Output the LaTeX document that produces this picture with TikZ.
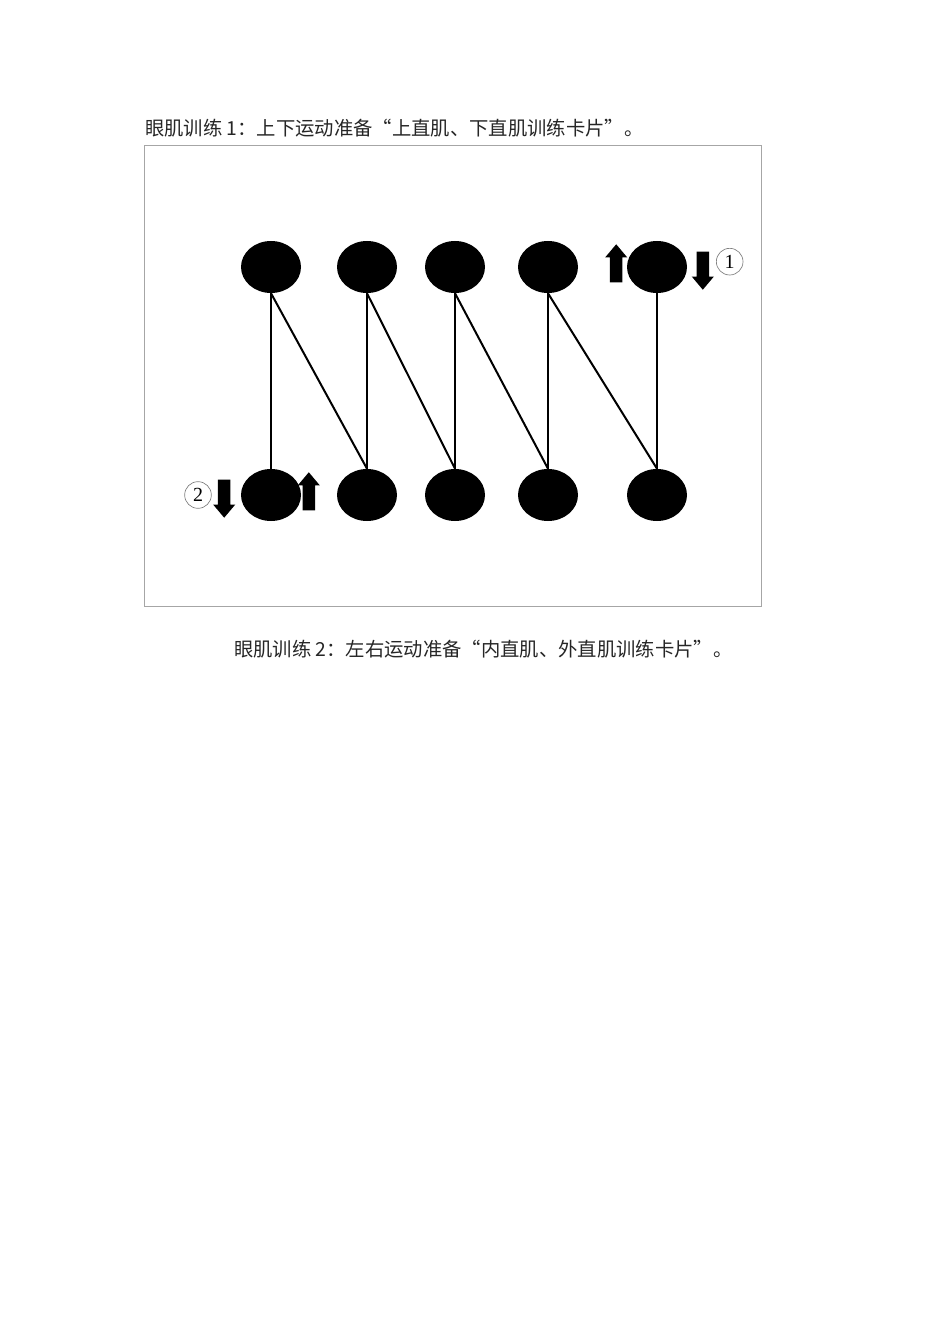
\documentclass[tikz,border=0pt]{standalone}
\usepackage{fontspec}
\setmainfont{Liberation Serif}
\newfontfamily\cjk{Noto Sans CJK SC}
\usepackage{tikz}
\usetikzlibrary{shapes,positioning}
\tikzset{
	dot/.style = {
		ellipse, fill=black, inner sep=0pt, minimum width=45pt, minimum height=39pt
	}
}
\tikzset{
	blockarrow/.style = {
		single arrow, fill=black, inner sep=4.5pt, minimum height=28.5pt,
		single arrow head extend=3.6pt, single arrow tip angle=80
	}
}
\tikzset{
	uparrow/.style = {
		blockarrow, shape border rotate=90
	}
}
\tikzset{
	downarrow/.style = {
		blockarrow, shape border rotate=270
	}
}
\tikzset{
	number/.style = {
		circle, draw=gray, line width=0.5pt, inner sep=0pt, minimum size=20pt,
		font=\fontsize{15}{15}\selectfont
	}
}
\tikzset{
	track/.style = {
		line width=1.5pt
	}
}
\tikzset{
	caption/.style = {
		anchor=west, inner sep=0pt, text=black!85, font=\cjk\fontsize{14.5}{14.5}\selectfont
	}
}

\begin{document}
\begin{tikzpicture}[x=0.75pt, y=-0.75pt]
	\useasboundingbox[fill=white] (0,0) rectangle (950,1344);
	\node[caption](CaptionOne) at (145,128){眼肌训练 1：上下运动准备“上直肌、下直肌训练卡片”。};
	\draw[gray!70, line width=0.75pt] (144,146) rectangle (761,606);

	\node[dot](TopOne) at (271,267){};
	\node[dot](TopTwo) at (367,267){};
	\node[dot](TopThree) at (455,267){};
	\node[dot](TopFour) at (548,267){};
	\node[dot](TopFive) at (657,267){};
	\node[dot](BottomOne) at (271,495){};
	\node[dot](BottomTwo) at (367,495){};
	\node[dot](BottomThree) at (455,495){};
	\node[dot](BottomFour) at (548,495){};
	\node[dot](BottomFive) at (657,495){};

	\draw[track] (TopOne.south) -- (BottomOne.north);
	\draw[track] (TopOne.south) -- (BottomTwo.north);
	\draw[track] (TopTwo.south) -- (BottomTwo.north);
	\draw[track] (TopTwo.south) -- (BottomThree.north);
	\draw[track] (TopThree.south) -- (BottomThree.north);
	\draw[track] (TopThree.south) -- (BottomFour.north);
	\draw[track] (TopFour.south) -- (BottomFour.north);
	\draw[track] (TopFour.south) -- (BottomFive.north);
	\draw[track] (TopFive.south) -- (BottomFive.north);

	\node[uparrow, left=3pt of TopFive](UpOne){};
	\node[downarrow, right=6.75pt of TopFive](DownOne){};
	\node[number, right=5pt of DownOne, yshift=4pt](NumberOne){1};
	\node[uparrow, right=0.75pt of BottomOne](UpTwo){};
	\node[downarrow, left=7.5pt of BottomOne](DownTwo){};
	\node[number, left=4.5pt of DownTwo](NumberTwo){2};

	\node[caption](CaptionTwo) at (234,649){眼肌训练 2：左右运动准备“内直肌、外直肌训练卡片”。};
\end{tikzpicture}
\end{document}
